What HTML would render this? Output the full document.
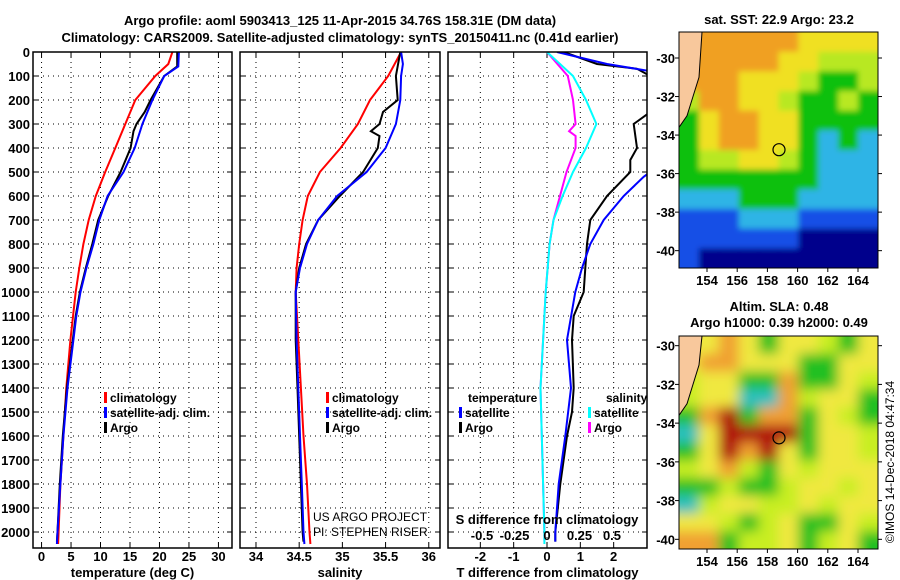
<!DOCTYPE html>
<html><head><meta charset="utf-8"><style>
html,body{margin:0;padding:0;background:#fff;}
svg{display:block;font-family:"Liberation Sans",sans-serif;}
.b{font-weight:bold;font-size:13px;}
.lg{font-weight:bold;font-size:12px;}
</style></head><body>
<svg id="c" width="900" height="580" xmlns="http://www.w3.org/2000/svg">
<defs>
<clipPath id="cp1"><rect x="33" y="52" width="199" height="496"/></clipPath>
<clipPath id="cp2"><rect x="240" y="52" width="200" height="496"/></clipPath>
<clipPath id="cp3"><rect x="448" y="52" width="199" height="496"/></clipPath>
<clipPath id="cm1"><rect x="679" y="32" width="199" height="236"/></clipPath>
<clipPath id="cm2"><rect x="679" y="336" width="199" height="213"/></clipPath>
<filter id="blur" x="-5%" y="-5%" width="110%" height="110%"><feGaussianBlur stdDeviation="6"/></filter>
<filter id="blur1" x="-5%" y="-5%" width="110%" height="110%"><feGaussianBlur stdDeviation="3"/></filter>
</defs>
<text x="340" y="25" text-anchor="middle" class="b" font-size="14">Argo profile: aoml 5903413_125 11-Apr-2015 34.76S 158.31E (DM data)</text>
<text x="340" y="42" text-anchor="middle" class="b">Climatology: CARS2009. Satellite-adjusted climatology: synTS_20150411.nc (0.41d earlier)</text>
<g id="g"></g>
</svg>
<script>
// ---- depth axis ----
const depthTicks=[0,100,200,300,400,500,600,700,800,900,1000,1100,1200,1300,1400,1500,1600,1700,1800,1900,2000];
// ---- panel 1: temperature ----
const tTicks=[0,5,10,15,20,25,30];
const tClimD=[0,50,100,200,300,400,500,600,700,800,900,1000,1200,1400,1600,1800,2000,2050];
const tClimV=[22.2,21.5,19.3,15.9,14.2,12.5,10.8,9.2,8.0,7.1,6.4,5.8,4.9,4.2,3.7,3.2,2.9,2.8];
const tSatD=[0,60,100,200,300,400,500,600,700,800,900,1000,1100,1200,1400,1600,1800,2000,2050];
const tSatV=[23.3,23.2,20.8,18.8,17.1,15.8,13.9,11.2,9.8,8.8,7.6,6.6,5.9,5.4,4.4,3.7,3.2,2.7,2.6];
const tArgoD=[0,60,100,200,250,300,330,400,500,600,700,800,900,1000,1100,1200,1400,1600,1800,2000,2040];
const tArgoV=[23.0,23.0,20.8,18.5,17.5,16.1,15.6,15.1,13.4,11.3,9.6,8.6,7.5,6.5,5.8,5.3,4.3,3.6,3.1,2.7,2.6];
// ---- panel 2: salinity ----
const sTicks=[34,34.5,35,35.5,36];
const sClimD=[0,100,200,300,400,500,600,700,800,900,1000,1200,1400,1600,1800,2000,2050];
const sClimV=[35.68,35.53,35.32,35.18,34.98,34.74,34.6,34.54,34.5,34.47,34.46,34.49,34.52,34.55,34.59,34.62,34.63];
const sSatD=[0,50,100,200,300,400,500,600,700,800,900,1000,1200,1400,1600,1800,2000,2050];
const sSatV=[35.68,35.7,35.68,35.67,35.62,35.5,35.28,34.94,34.72,34.59,34.51,34.46,34.47,34.49,34.51,34.53,34.55,34.56];
const sArgoD=[0,100,200,250,300,330,350,400,500,600,700,800,900,1000,1200,1400,1600,1800,2000,2040];
const sArgoV=[35.67,35.62,35.64,35.47,35.43,35.33,35.43,35.41,35.24,34.97,34.72,34.58,34.5,34.46,34.46,34.48,34.5,34.52,34.54,34.55];
// ---- panel 3: differences ----
const dTTicks=[-2,-1,0,1,2];
const dSTicks=[-0.5,-0.25,0,0.25,0.5];
const dSTickLabels=["-0.5","-0.25","0","0.25","0.5"];
const dtArgoD=[0,50,70,100,250,300,400,450,500,600,700,800,900,1000,1100,1200,1400,1500,1600,1800,2000,2040];
const dtArgoV=[0.5,1.5,2.7,3.1,3.1,2.6,2.7,2.5,2.5,1.8,1.3,1.2,1.15,1.1,0.8,0.75,0.8,0.75,0.6,0.4,0.25,0.25];
const dtSatD=[0,50,80,500,520,600,700,800,900,1000,1200,1400,1600,1800,2000,2040];
const dtSatV=[0.3,1.8,3.1,3.1,2.9,2.3,1.7,1.3,1.05,0.85,0.6,0.72,0.55,0.35,0.25,0.25];
const dsSatD=[0,50,100,200,300,400,500,600,700,800,1000,1200,1400,1600,1800,2000,2050];
const dsSatV=[0,0.1,0.2,0.3,0.38,0.3,0.2,0.12,0.05,0.02,-0.01,-0.03,-0.05,-0.04,-0.03,-0.02,-0.02];
const dsArgoD=[0,100,200,300,330,350,400,500,600,700,800,1000,1200,1400,1600,1800,2000,2040];
const dsArgoV=[0,0.16,0.2,0.22,0.17,0.22,0.22,0.15,0.1,0.05,0.02,-0.01,-0.03,-0.05,-0.04,-0.03,-0.02,-0.02];
// ---- maps ----
const sstGrid=[
[9,6,6,6,6,6,5,5,5,5],
[9,6,6,6,6,5,5,4,4,4],
[9,6,6,5,5,5,4,3,3,4],
[4,6,6,5,5,4,3,3,4,3],
[3,5,6,6,5,5,3,3,3,3],
[3,5,6,6,5,5,3,2,3,2],
[3,4,4,5,5,4,3,2,2,2],
[3,3,3,3,3,3,3,2,2,2],
[2,2,2,3,3,3,2,2,2,2],
[1,1,1,2,2,2,1,1,1,1],
[1,1,1,1,1,1,0,0,0,0],
[1,0,0,0,0,0,0,0,0,0]];
const slaGrid=[
[5,5,6,5,3,5,5,4,3,5],
[5,6,6,5,5,5,3,3,5,5],
[4,5,5,3,3,6,3,3,5,4],
[4,5,5,2,2,6,4,5,5,3],
[3,6,7,3,6,6,3,5,4,3],
[2,5,7,7,7,7,3,5,5,4],
[3,5,7,6,7,5,3,5,5,4],
[4,5,6,4,3,5,4,5,5,5],
[3,3,4,3,3,4,5,5,4,5],
[2,4,5,5,4,4,5,4,5,5],
[5,5,4,3,4,5,3,3,5,4],
[6,6,3,4,4,5,3,4,5,3]];
const lonTicks=[154,156,158,160,162,164];
const latTicks=[-30,-32,-34,-36,-38,-40];

const NS="http://www.w3.org/2000/svg";
const G=document.getElementById('g');
function el(t,a,p){const e=document.createElementNS(NS,t);for(const k in a)e.setAttribute(k,a[k]);(p||G).appendChild(e);return e;}
function txt(x,y,s,a,p){const e=el('text',Object.assign({x:x,y:y},a||{}),p);e.textContent=s;return e;}
const y0=52,pxPer100=24;
function yD(d){return y0+d*pxPer100/100;}

function panel(name,L,R,xmin,xmax,ticks,tickLbl,xTitle,showDepth,series){
  const xs=v=>L+(v-xmin)/(xmax-xmin)*(R-L);
  const grp=el('g',{});
  
  
  depthTicks.forEach(d=>{
    const l=el('line',{x1:L,x2:R,y1:yD(d),y2:yD(d),stroke:'#000','stroke-width':1,'stroke-dasharray':'1,4'},grp);
    
    
    el('line',{x1:L,x2:L+5,y1:yD(d),y2:yD(d),stroke:'#000'},grp);
    el('line',{x1:R-5,x2:R,y1:yD(d),y2:yD(d),stroke:'#000'},grp);
    if(showDepth){const t=txt(30,yD(d)+5,String(d),{'text-anchor':'end',class:'b'},grp);
      
      }
  });
  ticks.forEach((v,i)=>{
    const x=xs(v);
    el('line',{x1:x,x2:x,y1:52,y2:548,stroke:'#000','stroke-dasharray':'1,4'},grp);
    el('line',{x1:x,x2:x,y1:548,y2:543,stroke:'#000'},grp);
    el('line',{x1:x,x2:x,y1:52,y2:57,stroke:'#000'},grp);
    const t=txt(x,561,tickLbl?tickLbl[i]:String(v),{'text-anchor':'middle',class:'b'},grp);
    
    
  });
  const ti=txt((L+R)/2,577,xTitle,{'text-anchor':'middle',class:'b'},grp);
  
  
  series.forEach(s=>{
    const sx=s.xs||xs;
    const pts=s.d.map((d,i)=>sx(s.v[i]).toFixed(1)+','+yD(d).toFixed(1)).join(' ');
    const p=el('polyline',{points:pts,fill:'none',stroke:s.c,'stroke-width':2,'clip-path':'url(#'+s.clip+')'},grp);
    
    
  });
  const fr=el('rect',{x:L,y:52,width:R-L,height:496,fill:'none',stroke:'#000','stroke-width':1.5},grp);
  
  
  return xs;
}
panel('temperature-panel',33,232,-1.45,32.3,tTicks,null,'temperature (deg C)',true,[
 {d:tClimD,v:tClimV,c:'#f00',n:'temp-climatology-line',clip:'cp1'},
 {d:tArgoD,v:tArgoV,c:'#000',n:'temp-argo-line',clip:'cp1'},
 {d:tSatD,v:tSatV,c:'#00f',n:'temp-satellite-line',clip:'cp1'}]);
panel('salinity-panel',240,440,33.815,36.13,sTicks,null,'salinity',false,[
 {d:sClimD,v:sClimV,c:'#f00',n:'sal-climatology-line',clip:'cp2'},
 {d:sArgoD,v:sArgoV,c:'#000',n:'sal-argo-line',clip:'cp2'},
 {d:sSatD,v:sSatV,c:'#00f',n:'sal-satellite-line',clip:'cp2'}]);
const xsS=v=>547+v*130;
panel('difference-panel',448,647,-2.97,3.0,dTTicks,null,'T difference from climatology',false,[
 {d:dtArgoD,v:dtArgoV,c:'#000',n:'tdiff-argo-line',clip:'cp3'},
 {d:dtSatD,v:dtSatV,c:'#00f',n:'tdiff-satellite-line',clip:'cp3'},
 {d:dsArgoD,v:dsArgoV,c:'#f0f',n:'sdiff-argo-line',clip:'cp3',xs:xsS},
 {d:dsSatD,v:dsSatV,c:'#0ff',n:'sdiff-satellite-line',clip:'cp3',xs:xsS}]);
dSTicks.forEach((v,i)=>{const t=txt(xsS(v),540,dSTickLabels[i],{'text-anchor':'middle',class:'b'});
  
  });
{const t=txt(547,524,'S difference from climatology',{'text-anchor':'middle',class:'b'});
 
 }

function legendEntry(x,y,c,label,name){
  const g=el('g',{});
  
  
  if(c) el('rect',{x:x,y:y-10,width:3,height:11,fill:c},g);
  txt(x+6,y,label,{class:'lg'},g);
}
legendEntry(104,402,'#f00','climatology','legend-climatology');
legendEntry(104,417,'#00f','satellite-adj. clim.','legend-satellite');
legendEntry(104,432,'#000','Argo','legend-argo');
legendEntry(326,402,'#f00','climatology','legend-climatology-sal');
legendEntry(326,417,'#00f','satellite-adj. clim.','legend-satellite-sal');
legendEntry(326,432,'#000','Argo','legend-argo-sal');
legendEntry(462,402,null,'temperature','legend-temperature-header');
legendEntry(459,417,'#00f','satellite','legend-t-satellite');
legendEntry(459,432,'#000','Argo','legend-t-argo');
legendEntry(600,402,null,'salinity','legend-salinity-header');
legendEntry(588,417,'#0ff','satellite','legend-s-satellite');
legendEntry(588,432,'#f0f','Argo','legend-s-argo');
{const a=txt(313,521,'US ARGO PROJECT',{'font-size':12});
 
 
 const b=txt(313,536,'PI: STEPHEN RISER',{'font-size':12});
 
 }

// ---- maps ----
const sstCol=['#00008c','#1450e6','#2db4e6','#10c010','#b8e820','#f0e020','#f0a020'];
const slaCol=['#000','#000','#2cc0c0','#20c020','#c8ee20','#f0e840','#f0a030','#b01010'];
function map(name,top,bot,grid,cols,clip,filt,latTop,latBot,title1,title2){
  const L=679,R=878;
  const grp=el('g',{});
  
  
  const cg=el('g',{'clip-path':'url(#'+clip+')'},grp);
  const inner=el('g',filt?{filter:'url(#'+filt+')'}:{},cg);
  const nr=grid.length,nc=grid[0].length,cw=(R-L)/nc,ch=(bot-top)/nr;
  const pad=filt?12:0;
  grid.forEach((row,r)=>row.forEach((v,c)=>{
    const col=v===9?cols[6]:cols[v];
    const x=L+c*cw-(c===0?pad:0), y=top+r*ch-(r===0?pad:0);
    const w=cw+1+(c===0?pad:0)+(c===nc-1?pad:0), h=ch+1+(r===0?pad:0)+(r===nr-1?pad:0);
    const cell=el('rect',{x:x,y:y,width:w,height:h,fill:col},inner);
    
    
  }));
  const ly=v=>top+(latTop-v)/(latTop-latBot)*(bot-top);
  const lx=v=>707+(v-154)*15.1;
  const land=el('polygon',{points:`${L},${top} ${L+23},${top} ${L+20},${ly(-31)} ${L+14},${ly(-32)} ${L+8},${ly(-33)} ${L},${ly(-33.6)}`,fill:'#f8c89c',stroke:'#000'},cg);
  
  
  const m=el('circle',{cx:779,cy:ly(-34.76),r:6,fill:'none',stroke:'#000','stroke-width':1.2},grp);
  
  
  el('rect',{x:L,y:top,width:R-L,height:bot-top,fill:'none',stroke:'#000'},grp);
  latTicks.forEach(v=>{const y=ly(v);
    el('line',{x1:L-4,x2:L,y1:y,y2:y,stroke:'#000'},grp);
    el('line',{x1:R,x2:R+4,y1:y,y2:y,stroke:'#000'},grp);
    const t=txt(675,y+5,String(v),{'text-anchor':'end',class:'b'},grp);
    
    });
  lonTicks.forEach(v=>{const x=lx(v);
    el('line',{x1:x,x2:x,y1:bot,y2:bot+4,stroke:'#000'},grp);
    const t=txt(x,bot+17,String(v),{'text-anchor':'middle',class:'b'},grp);
    
    });
  const t1=txt(779,title2?top-25:top-8,title1,{'text-anchor':'middle',class:'b',"font-size":12},grp);
  
  
  if(title2){const t2=txt(779,top-9,title2,{'text-anchor':'middle',class:'b','font-size':12},grp);
    
    }
}
map('sst-map',32,268,sstGrid,sstCol,'cm1','blur1',-28.65,-40.9,'sat. SST: 22.9 Argo: 23.2');
map('sla-map',336,549,slaGrid,slaCol,'cm2','blur',-29.5,-40.5,'Altim. SLA: 0.48','Argo h1000: 0.39 h2000: 0.49');
{const t=txt(0,0,'©IMOS 14-Dec-2018 04:47:34',{'font-size':12,transform:'translate(894,462) rotate(-90)','text-anchor':'middle'});
 
 }
</script>
</body></html>
